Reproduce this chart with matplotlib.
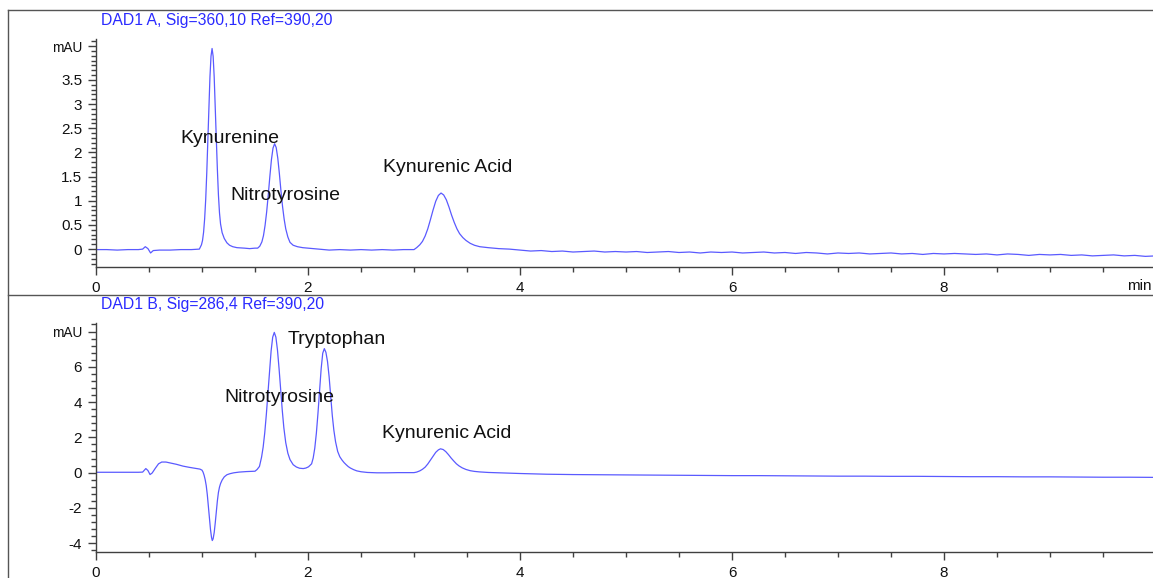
import numpy as np
import matplotlib
matplotlib.use('Agg')
import matplotlib.pyplot as plt
import matplotlib.ticker as ticker
from matplotlib.lines import Line2D

plt.rcParams['font.family'] = ['Liberation Sans', 'DejaVu Sans']

# ---- signal A (360 nm) ----
a_time = [
    0.0, 0.1, 0.2, 0.3, 0.4, 0.44, 0.465, 0.49, 0.515, 0.54, 0.6, 0.7, 0.8,
    0.9, 0.975,
    # kynurenine
    0.995, 1.005, 1.015, 1.025, 1.035, 1.045, 1.055, 1.065, 1.075, 1.085,
    1.095, 1.105, 1.115, 1.125, 1.135, 1.145, 1.155, 1.165, 1.175, 1.19,
    1.21, 1.235, 1.26, 1.29, 1.33, 1.40, 1.45, 1.50,
    # nitrotyrosine
    1.525, 1.545, 1.565, 1.58, 1.595, 1.61, 1.625, 1.64, 1.655, 1.67, 1.685,
    1.70, 1.715, 1.73, 1.745, 1.76, 1.775, 1.79, 1.81, 1.83, 1.86, 1.90,
    1.95, 2.0, 2.1, 2.2, 2.3, 2.4, 2.5, 2.6, 2.7, 2.8, 2.9, 3.0,
    # kynurenic acid
    3.025, 3.055, 3.08, 3.105, 3.13, 3.155, 3.18, 3.205, 3.23, 3.255, 3.28,
    3.305, 3.33, 3.355, 3.38, 3.405, 3.43, 3.46, 3.49, 3.53, 3.57, 3.62,
    3.70, 3.80, 3.90,
    # baseline
    4.0, 4.1, 4.2, 4.3, 4.4, 4.5, 4.6, 4.7, 4.8, 4.9,
    5.0, 5.1, 5.2, 5.3, 5.4, 5.5, 5.6, 5.7, 5.8, 5.9,
    6.0, 6.1, 6.2, 6.3, 6.4, 6.5, 6.6, 6.7, 6.8, 6.9,
    7.0, 7.1, 7.2, 7.3, 7.4, 7.5, 7.6, 7.7, 7.8, 7.9,
    8.0, 8.1, 8.2, 8.3, 8.4, 8.5, 8.6, 8.7, 8.8, 8.9,
    9.0, 9.1, 9.2, 9.3, 9.4, 9.5, 9.6, 9.7, 9.8, 9.9, 10.0]
a_mau = [
    -0.01, -0.01, -0.02, -0.01, -0.01, 0.0, 0.05, 0.01, -0.08, -0.03, -0.02,
    -0.02, -0.01, -0.01, 0.0,
    0.09, 0.18, 0.35, 0.63, 1.03, 1.58, 2.24, 2.93, 3.56, 3.99,
    4.15, 3.99, 3.56, 2.95, 2.28, 1.65, 1.12, 0.75, 0.52, 0.34,
    0.22, 0.13, 0.08, 0.05, 0.03, 0.02, 0.01, 0.02,
    0.02, 0.06, 0.15, 0.28, 0.49, 0.77, 1.12, 1.50, 1.85, 2.09, 2.18,
    2.10, 1.88, 1.56, 1.20, 0.88, 0.62, 0.42, 0.25, 0.14, 0.08, 0.05,
    0.03, 0.02, 0.0, -0.02, -0.01, -0.02, -0.01, -0.02, -0.01, -0.02, -0.01,
    -0.01,
    0.03, 0.09, 0.16, 0.27, 0.42, 0.61, 0.81, 0.99, 1.11, 1.16, 1.12,
    1.02, 0.87, 0.70, 0.55, 0.42, 0.32, 0.24, 0.18, 0.12, 0.08, 0.05,
    0.03, 0.01, 0.0,
    -0.02, -0.04, -0.03, -0.05, -0.04, -0.06, -0.05, -0.04, -0.06, -0.05,
    -0.06, -0.05, -0.07, -0.06, -0.05, -0.07, -0.06, -0.08, -0.06, -0.07,
    -0.06, -0.08, -0.07, -0.06, -0.08, -0.07, -0.09, -0.07, -0.08, -0.10,
    -0.08, -0.09, -0.08, -0.10, -0.09, -0.08, -0.10, -0.09, -0.11, -0.09,
    -0.10, -0.09, -0.10, -0.11, -0.10, -0.12, -0.10, -0.11, -0.13, -0.11,
    -0.12, -0.11, -0.13, -0.12, -0.14, -0.13, -0.12, -0.14, -0.13, -0.15,
    -0.14]

# ---- signal B (286 nm) ----
b_time = [
    0.0, 0.1, 0.2, 0.3, 0.4, 0.44, 0.47, 0.49, 0.51, 0.53, 0.56, 0.59, 0.62,
    0.66, 0.70, 0.76, 0.82, 0.88, 0.94, 0.98, 1.00,
    # negative system peak
    1.01, 1.02, 1.03, 1.04, 1.05, 1.06, 1.07, 1.08, 1.09, 1.097, 1.105,
    1.115, 1.125, 1.135, 1.145, 1.155, 1.165, 1.175, 1.19, 1.21, 1.235,
    1.264, 1.30, 1.35, 1.42, 1.50,
    # nitrotyrosine
    1.52, 1.542, 1.562, 1.577, 1.592, 1.607, 1.622, 1.637, 1.652, 1.667,
    1.682, 1.697, 1.712, 1.727, 1.742, 1.757, 1.772, 1.79, 1.81, 1.83, 1.86,
    1.89, 1.92, 1.955,
    # tryptophan
    1.98, 2.005, 2.034, 2.049, 2.064, 2.079, 2.094, 2.109, 2.124, 2.139,
    2.154, 2.169, 2.184, 2.199, 2.214, 2.229, 2.244, 2.26, 2.28, 2.30, 2.32,
    2.34, 2.36, 2.38, 2.40, 2.43, 2.46, 2.50, 2.56, 2.65, 2.75, 2.85, 3.0,
    # kynurenic acid
    3.025, 3.055, 3.08, 3.105, 3.13, 3.155, 3.18, 3.205, 3.23, 3.25, 3.275,
    3.30, 3.325, 3.35, 3.375, 3.40, 3.425, 3.455, 3.49, 3.53, 3.57, 3.62,
    3.70, 3.80,
    # baseline
    4.0, 4.25, 4.5, 4.75, 5.0, 5.25, 5.5, 5.75, 6.0, 6.25, 6.5, 6.75, 7.0,
    7.25, 7.5, 7.75, 8.0, 8.25, 8.5, 8.75, 9.0, 9.25, 9.5, 9.75, 10.0]
b_mau = [
    0.02, 0.02, 0.02, 0.02, 0.02, 0.03, 0.23, 0.12, -0.11, -0.02, 0.25,
    0.50, 0.60, 0.60, 0.55, 0.47, 0.37, 0.30, 0.24, 0.20, 0.14,
    0.03, -0.15, -0.40, -0.74, -1.25, -1.90, -2.58, -3.22, -3.68, -3.85,
    -3.75, -3.40, -2.85, -2.20, -1.60, -1.12, -0.82, -0.62, -0.42, -0.24,
    -0.12, -0.06, -0.01, 0.03, 0.06, 0.08,
    0.18, 0.35, 0.88, 1.45, 2.26, 3.30, 4.52, 5.78, 6.90, 7.68,
    7.95, 7.68, 6.95, 5.90, 4.70, 3.55, 2.55, 1.70, 1.10, 0.74, 0.45,
    0.32, 0.25, 0.23,
    0.26, 0.33, 0.50, 0.83, 1.39, 2.24, 3.36, 4.65, 5.88, 6.77,
    7.03, 6.82, 6.30, 5.45, 4.35, 3.25, 2.40, 1.75, 1.20, 0.90, 0.72,
    0.57, 0.45, 0.34, 0.26, 0.17, 0.10, 0.05, 0.01, -0.01, -0.01, 0.0, 0.0,
    0.03, 0.10, 0.19, 0.31, 0.49, 0.71, 0.94, 1.15, 1.29, 1.35, 1.31,
    1.19, 1.02, 0.83, 0.66, 0.50, 0.38, 0.27, 0.18, 0.11, 0.07, 0.04,
    0.01, -0.01,
    -0.05, -0.09, -0.11, -0.12, -0.13, -0.14, -0.15, -0.16, -0.17, -0.17,
    -0.18, -0.19, -0.20, -0.20, -0.21, -0.21, -0.22, -0.23, -0.23, -0.24,
    -0.24, -0.25, -0.26, -0.26, -0.27]

# peak names and where their labels sit (time, mAU)
a_names = ['Kynurenine', 'Nitrotyrosine', 'Kynurenic Acid']
a_name_pos = [(0.795, 2.28), (1.271, 1.107), (2.705, 1.68)]
b_names = ['Tryptophan', 'Nitrotyrosine', 'Kynurenic Acid']
b_name_pos = [(1.805, 7.56), (1.208, 4.24), (2.695, 2.22)]

a_title = 'DAD1 A, Sig=360,10 Ref=390,20'
b_title = 'DAD1 B, Sig=286,4 Ref=390,20'
a_yticks = [0, 0.5, 1, 1.5, 2, 2.5, 3, 3.5]
b_yticks = [-4, -2, 0, 2, 4, 6]

W, H = 1153, 578
TRACE = '#5a5aff'
AXC = '#404040'


def px(x, y):
    # pixel position (top-left origin) -> figure fraction
    return x / W, 1 - y / H


def panel(fig, top, bottom, ylim, ticks, minor, unit_at):
    left, b = px(96, bottom)
    _, t = px(96, top)
    ax = fig.add_axes([left, b, 1 - left, t - b])
    ax.set_xlim(0, (W - 96) / 106)
    ax.set_ylim(*ylim)
    for s in ['top', 'right']:
        ax.spines[s].set_visible(False)
    for s in ['left', 'bottom']:
        ax.spines[s].set_color(AXC)
        ax.spines[s].set_linewidth(1)
    # y ticks: the top major one carries the unit
    locs = list(ticks) + [unit_at]
    labels = ['{:g}'.format(v) for v in ticks] + ['mAU']
    ax.yaxis.set_major_locator(ticker.FixedLocator(locs))
    ax.set_yticklabels(labels)
    ax.yaxis.set_minor_locator(ticker.FixedLocator(minor))
    ax.xaxis.set_major_locator(ticker.FixedLocator([0, 2, 4, 6, 8]))
    ax.xaxis.set_major_formatter(ticker.FormatStrFormatter('%d'))
    ax.xaxis.set_minor_locator(ticker.MultipleLocator(0.5))
    ax.tick_params(which='major', length=6, width=1, color=AXC,
                   labelsize=11, labelcolor='#111111', pad=4)
    ax.tick_params(which='minor', length=3.3, width=1, color=AXC)
    ax.get_yticklabels()[-1].set_fontsize(9.8)
    ax.patch.set_visible(False)
    return ax


fig = plt.figure(figsize=(W / 100, H / 100), dpi=100)

# outer frame and separator
for xs, ys in [((8, W), (10, 10)), ((8, 8), (10, H)), ((8, W), (295, 295))]:
    fx = [x / W for x in xs]
    fy = [1 - y / H for y in ys]
    fig.add_artist(Line2D(fx, fy, color='#555555', lw=1))

ax_a = panel(fig, 39.3, 267, (-0.37, 4.34), a_yticks,
             np.round(np.arange(-0.3, 4.31, 0.1), 2), 4.2)
ax_b = panel(fig, 322.7, 552, (-4.5, 8.5), b_yticks,
             np.round(np.arange(-4.4, 8.41, 0.4), 2), 8)

ax_a.plot(a_time, a_mau, color=TRACE, lw=0.9)
ax_b.plot(b_time, b_mau, color=TRACE, lw=0.9)

for ax, names, pos in [(ax_a, a_names, a_name_pos), (ax_b, b_names, b_name_pos)]:
    for name, (x, y) in zip(names, pos):
        ax.text(x, y, name, fontsize=14, color='#111111',
                ha='left', va='center')

x, y = px(101, 20)
fig.text(x, y, a_title, color='#2a2aff', fontsize=11.3, va='center')
x, y = px(101, 305)
fig.text(x, y, b_title, color='#2a2aff', fontsize=11.3, va='center')

# time unit at the right end of the upper axis
x, y = px(1152, 286)
fig.text(x, y, 'min', fontsize=11, color='#111111', va='center', ha='right')

fig.savefig('out.png', dpi=100)
